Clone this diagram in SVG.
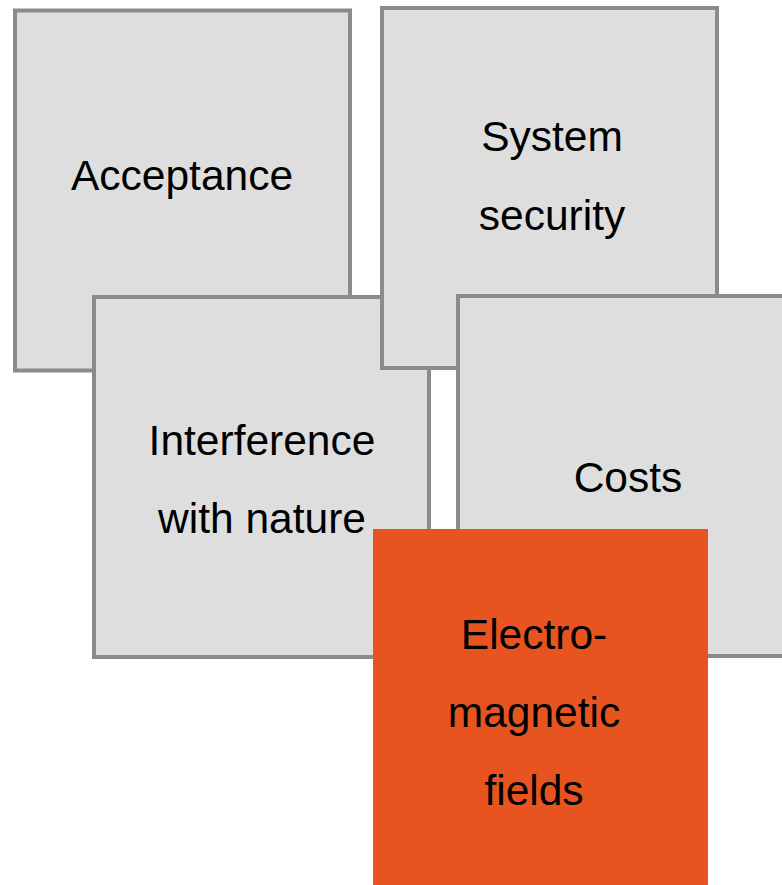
<svg xmlns="http://www.w3.org/2000/svg" width="782" height="885" viewBox="0 0 782 885">
  <style>
    .card { fill: #dedede; stroke: #898b8d; stroke-width: 4; }
    .hot { fill: #e8541f; }
    .label { font-family: "Liberation Sans", Arial, sans-serif; font-size: 42.5px; fill: #000; text-anchor: middle; }
  </style>
  <rect width="782" height="885" fill="#ffffff"/>
  <g id="acceptance">
    <rect class="card" x="15" y="10.5" width="335" height="360"/>
    <text class="label" x="182" y="190">Acceptance</text>
  </g>
  <g id="interference">
    <rect class="card" x="94" y="297" width="335" height="360"/>
    <text class="label" x="262" y="455">Interference</text>
    <text class="label" x="262" y="533">with nature</text>
  </g>
  <g id="system-security">
    <rect class="card" x="382" y="8" width="335" height="360"/>
    <text class="label" x="552" y="151">System</text>
    <text class="label" x="552" y="230">security</text>
  </g>
  <g id="costs">
    <rect class="card" x="458" y="296" width="335" height="360"/>
    <text class="label" x="628" y="492">Costs</text>
  </g>
  <g id="emf">
    <rect class="hot" x="373" y="529" width="335" height="360"/>
    <text class="label" x="534" y="649">Electro-</text>
    <text class="label" x="534" y="727">magnetic</text>
    <text class="label" x="534" y="805">fields</text>
  </g>
  <g id="connectors"/>
</svg>
